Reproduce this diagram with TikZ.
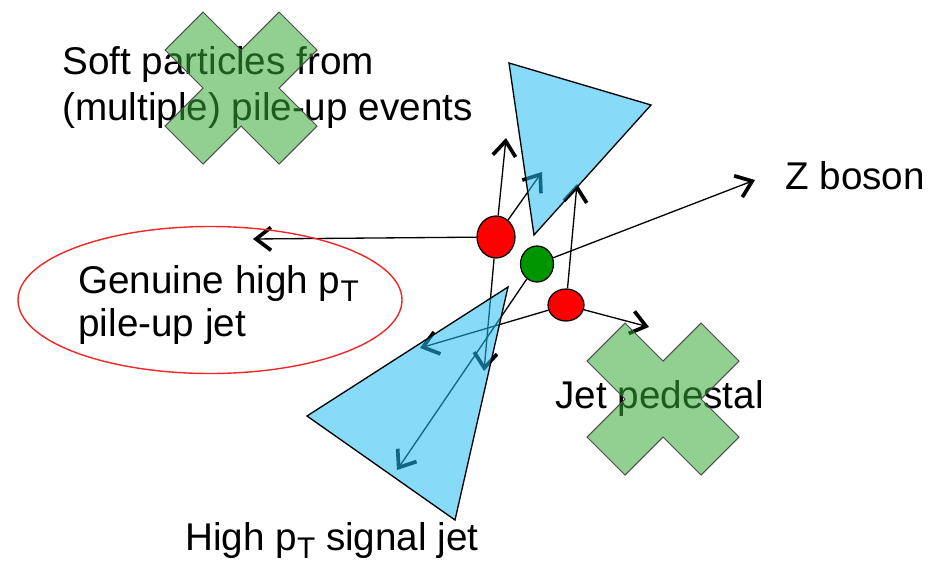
\documentclass[tikz,border=0pt]{standalone}
\usepackage{fontspec}
\setmainfont{Liberation Sans}
\usepackage{xcolor}
\definecolor{coneblue}{RGB}{36,187,242}
\definecolor{crossgreen}{RGB}{55,169,55}
\definecolor{vertexred}{RGB}{255,0,0}
\definecolor{vertexgreen}{RGB}{0,150,0}
\definecolor{ringred}{RGB}{240,40,40}
\usepackage{tikz}
\usetikzlibrary{arrows.meta, shapes.geometric}

\newcommand{\pT}{p\raisebox{-5pt}{\fontsize{17}{17}\selectfont T}}

\tikzset{
  label/.style={anchor=base west, inner sep=0pt, font=\fontsize{22}{26}\selectfont},
  track/.style={line width=0.75pt, -{Straight Barb[length=8.5pt,width=13pt,line width=2.1pt]}},
  cone/.style={draw=black, line width=0.75pt, fill=coneblue, fill opacity=0.55},
  veto/.style={draw=black!70, line width=0.6pt, fill=crossgreen, fill opacity=0.55},
  vertex/.style={ellipse, draw=black, line width=0.7pt, inner sep=0pt}
}

\begin{document}
\begin{tikzpicture}[x=0.02cm, y=-0.02cm]
  \useasboundingbox (0,0) rectangle (946,565);

  % Labels
  \node[label] (soft1) at (62,74) {Soft particles from};
  \node[label] (soft2) at (62,120) {(multiple) pile-up events};
  \node[label] (zlab) at (785,189) {Z boson};
  \node[label] (gen1) at (78,293) {Genuine high \pT};
  \node[label] (gen2) at (78,336) {pile-up jet};
  \node[label] (pedlab) at (555,408) {Jet pedestal};
  \node[label] (siglab) at (185,550) {High \pT{} signal jet};

  % Vertices
  \node[vertex, fill=vertexred, minimum width=0.76cm, minimum height=0.84cm] (pv1) at (496,237) {};
  \node[vertex, fill=vertexgreen, minimum width=0.66cm, minimum height=0.72cm] (hs) at (537,264) {};
  \node[vertex, fill=vertexred, minimum width=0.72cm, minimum height=0.64cm] (pv2) at (566,305) {};

  % Track ends
  \coordinate (t1) at (253,239);
  \coordinate (t2) at (506,138);
  \coordinate (t3) at (542,172);
  \coordinate (t4) at (484,371);
  \coordinate (t5) at (397,470);
  \coordinate (t6) at (420,348);
  \coordinate (t7) at (577,184);
  \coordinate (t8) at (649,327);
  \coordinate (zb) at (755,180);

  % Tracks
  \draw[track] (pv1) -- (t1);
  \draw[track] (pv1) -- (t2);
  \draw[track] (pv1) -- (t3);
  \draw[track] (pv1) -- (t4);
  \draw[track] (hs) -- (t5);
  \draw[track] (hs) -- (zb);
  \draw[track] (pv2) -- (t6);
  \draw[track] (pv2) -- (t7);
  \draw[track] (pv2) -- (t8);

  % Jet cones
  \draw[cone] (509,63) -- (651,105) -- (534,235) -- cycle;
  \draw[cone] (508,287) -- (307,416) -- (455,520) -- cycle;

  % Pile-up ring
  \draw[ringred, line width=0.8pt] (210,300) ellipse [x radius=192, y radius=73.5];

  % Crosses
  \draw[veto, shift={(241,88)}]
    (0,-38) -- (-38,-76) -- (-76,-38) -- (-38,0) -- (-76,38) -- (-38,76)
    -- (0,38) -- (38,76) -- (76,38) -- (38,0) -- (76,-38) -- (38,-76) -- cycle;
  \draw[veto, shift={(663,399)}]
    (0,-38) -- (-38,-76) -- (-76,-38) -- (-38,0) -- (-76,38) -- (-38,76)
    -- (0,38) -- (38,76) -- (76,38) -- (38,0) -- (76,-38) -- (38,-76) -- cycle;

\end{tikzpicture}
\end{document}
